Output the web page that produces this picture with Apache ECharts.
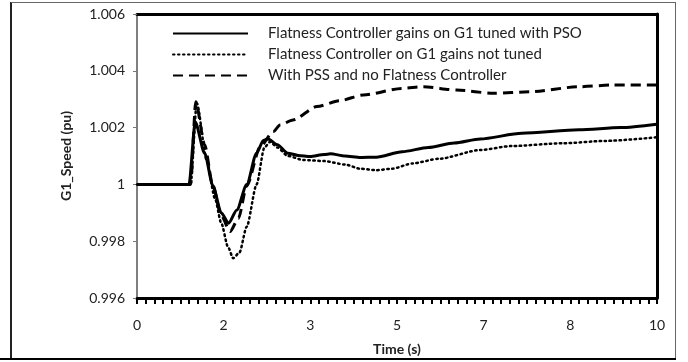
<!DOCTYPE html>
<html>
<head>
<meta charset="utf-8">
<script src="https://cdn.jsdelivr.net/npm/echarts@6/dist/echarts.min.js"></script>
<style>
html,body{margin:0;padding:0;background:#fff;}
#chart{width:688px;height:362px;}
</style>
</head>
<body>
<div id="chart"></div>
<script>
// ---- data ----
var seriesNames = [
  'Flatness Controller gains on G1 tuned with PSO',
  'Flatness Controller on G1 gains not tuned',
  'With PSS and no Flatness Controller'
];
var xTickLabelsNote = ['0', '2', '3', '5', '7', '8', '10'];

var psoT = [0, 1.0, 1.12, 1.3, 1.46, 1.62, 1.76, 1.92, 2.11, 2.3, 2.43, 2.52, 2.7, 2.9, 3.1, 3.33, 3.6, 3.72, 4.0, 4.3, 4.6, 5.1, 5.6, 6.1, 6.6, 7.4, 8.5, 9.3, 10];
var psoV = [1.0, 1.0, 1.0022, 1.0011, 0.99995, 0.9990, 0.99863, 0.9991, 1.0, 1.0011, 1.00155, 1.0016, 1.0014, 1.0011, 1.00102, 1.00098, 1.00105, 1.00108, 1.001, 1.00095, 1.00096, 1.00115, 1.0013, 1.00146, 1.0016, 1.0018, 1.00192, 1.002, 1.00212];

var untunedT = [0, 1.03, 1.15, 1.34, 1.5, 1.62, 1.75, 1.85, 1.97, 2.11, 2.3, 2.45, 2.56, 2.7, 2.9, 3.2, 3.6, 4.0, 4.3, 4.6, 4.9, 5.3, 5.8, 6.6, 7.2, 8.2, 9.0, 10];
var untunedV = [1.0, 1.0, 1.00286, 1.00086, 0.9995, 0.99864, 0.9978, 0.9974, 0.9976, 0.99851, 1.0, 1.0013, 1.0015, 1.0013, 1.001, 1.00086, 1.00082, 1.0007, 1.00055, 1.0005, 1.00055, 1.00074, 1.0009, 1.00121, 1.00135, 1.00145, 1.00153, 1.00166];

var pssT = [0, 1.03, 1.13, 1.3, 1.46, 1.62, 1.79, 1.95, 2.11, 2.37, 2.62, 2.75, 3.0, 3.46, 3.9, 4.35, 5.1, 5.5, 6.15, 6.85, 7.56, 8.5, 9.15, 10];
var pssV = [1.0, 1.0, 1.00291, 1.0014, 0.99995, 0.9989, 0.99834, 0.9988, 0.99995, 1.00133, 1.00186, 1.00209, 1.00227, 1.00274, 1.00295, 1.00315, 1.00338, 1.00344, 1.00332, 1.00321, 1.00326, 1.00344, 1.0035, 1.0035];

function pairs(t, v) { return t.map(function (x, i) { return [x, v[i]]; }); }

var FONT = 'Lato';
var chart = echarts.init(document.getElementById('chart'), null, {renderer: 'canvas'});
var option = {
  animation: false,
  backgroundColor: '#fff',
  textStyle: {fontFamily: FONT},
  grid: {left: 137, right: 31, top: 14, bottom: 64, containLabel: false},
  legend: {
    orient: 'vertical',
    left: 167,
    top: 21,
    itemWidth: 75,
    itemHeight: 14,
    itemGap: 6,
    itemStyle: {opacity: 0},
    textStyle: {fontFamily: FONT, fontSize: 15, color: '#222', padding: [0, 0, 0, 15]},
    data: seriesNames
  },
  xAxis: [{
    type: 'value',
    min: 0, max: 10, interval: 10 / 6,
    name: 'Time (s)',
    nameLocation: 'middle',
    nameGap: 44,
    nameTextStyle: {fontFamily: FONT, fontSize: 14, fontWeight: 'bold', color: '#222'},
    axisLine: {show: true, lineStyle: {color: '#000', width: 3}},
    axisTick: {show: true, inside: false, length: 6, lineStyle: {color: '#000', width: 2}},
    minorTick: {show: true, splitNumber: 10, length: 6, lineStyle: {color: '#000', width: 2}},
    axisLabel: {fontFamily: FONT, fontSize: 14, color: '#222', margin: 20,
      formatter: function (v) { return String(Math.round(v)); }},
    splitLine: {show: false}
  }, {
    type: 'value', position: 'top', min: 0, max: 10,
    axisLine: {show: true, onZero: false, lineStyle: {color: '#000', width: 3}},
    axisTick: {show: false}, axisLabel: {show: false}, splitLine: {show: false}
  }],
  yAxis: [{
    type: 'value',
    min: 0.996, max: 1.006, interval: 0.002,
    name: 'G1_Speed (pu)',
    nameLocation: 'middle',
    nameGap: 64,
    nameTextStyle: {fontFamily: FONT, fontSize: 14, fontWeight: 'bold', color: '#222'},
    axisLine: {show: true, onZero: false, lineStyle: {color: '#555', width: 1.5}},
    axisTick: {show: true, inside: false, length: 4, lineStyle: {color: '#777', width: 1}},
    axisLabel: {fontFamily: FONT, fontSize: 14, color: '#222', margin: 12,
      formatter: function (v) { return String(Number(v.toFixed(3))); }},
    splitLine: {show: false}
  }, {
    type: 'value', position: 'right', min: 0.996, max: 1.006,
    axisLine: {show: true, onZero: false, lineStyle: {color: '#000', width: 3}},
    axisTick: {show: false}, axisLabel: {show: false}, splitLine: {show: false}
  }],
  graphic: [
    {type: 'line', shape: {x1: 11, y1: 2, x2: 11, y2: 360}, style: {stroke: '#222', lineWidth: 2}, silent: true},
    {type: 'line', shape: {x1: 11, y1: 2.5, x2: 675, y2: 2.5}, style: {stroke: '#666', lineWidth: 1}, silent: true},
    {type: 'line', shape: {x1: 675.5, y1: 2, x2: 675.5, y2: 360}, style: {stroke: '#666', lineWidth: 1}, silent: true},
    {type: 'line', shape: {x1: 0, y1: 359, x2: 676, y2: 359}, style: {stroke: '#000', lineWidth: 2}, silent: true}
  ],
  series: [{
    name: seriesNames[0], type: 'line', symbol: 'none', smooth: 0.25, smoothMonotone: 'x',
    data: pairs(psoT, psoV),
    lineStyle: {color: '#000', width: 3, type: 'solid'},
    itemStyle: {color: '#000'}, z: 3
  }, {
    name: seriesNames[1], type: 'line', symbol: 'none', smooth: 0.25, smoothMonotone: 'x',
    data: pairs(untunedT, untunedV),
    lineStyle: {color: '#000', width: 2.5, type: [1.5, 3.5], cap: 'round'},
    itemStyle: {color: '#000'}, z: 2
  }, {
    name: seriesNames[2], type: 'line', symbol: 'none', smooth: 0.25, smoothMonotone: 'x',
    data: pairs(pssT, pssV),
    lineStyle: {color: '#000', width: 3, type: [10, 6]},
    itemStyle: {color: '#000'}, z: 2
  }]
};
chart.setOption(option);
</script>
</body>
</html>
